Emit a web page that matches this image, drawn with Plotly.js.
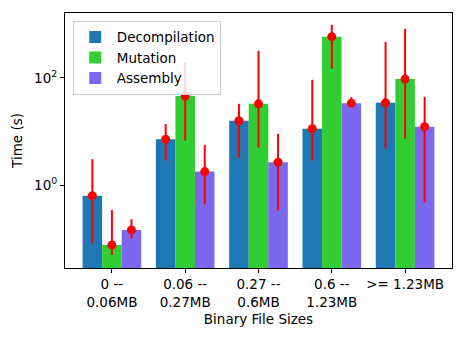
<!DOCTYPE html>
<html>
<head>
<meta charset="utf-8">
<script src="https://cdn.plot.ly/plotly-3.0.1.min.js"></script>
<style>html,body{margin:0;padding:0;background:#fff;}#chart{width:465px;height:337px;}</style>
</head>
<body>
<div id="chart"></div>
<script>
const categories = ["0 --<br>0.06MB", "0.06 --<br>0.27MB", "0.27 --<br>0.6MB", "0.6 --<br>1.23MB", ">= 1.23MB"];
const seriesNames = ["Decompilation", "Mutation", "Assembly"];
const seriesColors = ["#1f77b4", "#32cd32", "#7b68ee"];

const decompMean  = [0.646, 7.24, 15.9, 11.3, 34.3];
const decompLow   = [0.084, 2.89, 3.29, 2.89, 4.84];
const decompHigh  = [3.07, 13.9, 32.8, 91.8, 467];

const mutMean     = [0.078, 45.7, 32.8, 579, 94.6];
const mutLow      = [0.051, 6.81, 5.05, 149, 7.43];
const mutHigh     = [0.35, 193, 318, 968, 816];

const asmMean     = [0.149, 1.81, 2.70, 33.8, 12.3];
const asmLow      = [0.104, 0.447, 0.34, 29.2, 0.479];
const asmHigh     = [0.235, 5.67, 9.08, 43.7, 44.3];

const means = [decompMean, mutMean, asmMean];
const lows = [decompLow, mutLow, asmLow];
const highs = [decompHigh, mutHigh, asmHigh];

const idx = categories.map((c, i) => i);
const nS = seriesNames.length;
const barW = 0.8 / nS;

const traces = [];
seriesNames.forEach((name, k) => {
  traces.push({
    type: 'bar', name: name, x: idx, y: means[k],
    marker: {color: seriesColors[k], line: {width: 0}},
    hoverinfo: 'skip'
  });
});
seriesNames.forEach((name, k) => {
  const off = (k - (nS - 1) / 2) * barW;
  traces.push({
    type: 'scatter', mode: 'markers', showlegend: false,
    x: idx.map(i => i + off), y: means[k],
    marker: {color: 'red', size: 9},
    error_y: {
      type: 'data', symmetric: false,
      array: means[k].map((m, i) => highs[k][i] - m),
      arrayminus: means[k].map((m, i) => m - lows[k][i]),
      color: 'red', thickness: 2, width: 0
    }
  });
});

const layout = {
  width: 465, height: 337,
  margin: {l: 65, r: 13, t: 13, b: 69},
  paper_bgcolor: '#fff', plot_bgcolor: '#fff',
  font: {family: 'DejaVu Sans, sans-serif', size: 13.5, color: '#000'},
  barmode: 'group', bargap: 0.2, bargroupgap: 0,
  xaxis: {
    range: [-0.64, 4.64], tickvals: idx, ticktext: categories,
    showgrid: false, zeroline: false, showline: true, mirror: true,
    linecolor: '#000', linewidth: 1, ticks: 'outside', ticklen: 4, tickcolor: '#000',
    tickfont: {size: 13.5},
    title: {text: 'Binary File Sizes', font: {size: 13.5}, standoff: 5}
  },
  yaxis: {
    type: 'log', range: [-1.535, 3.205],
    tickvals: [1, 100], ticktext: ['10<sup>0</sup>', '10<sup>2</sup>'],
    showgrid: false, zeroline: false, showline: true, mirror: true,
    linecolor: '#000', linewidth: 1, ticks: 'outside', ticklen: 4, tickcolor: '#000',
    tickfont: {size: 13.5},
    title: {text: 'Time (s)', font: {size: 13.5}, standoff: 8}
  },
  legend: {
    x: 0.02, y: 0.97, xanchor: 'left', yanchor: 'top',
    bgcolor: 'rgba(255,255,255,0.85)', bordercolor: '#cccccc', borderwidth: 1,
    font: {size: 13.5}, itemwidth: 33
  },
  showlegend: true
};

Plotly.newPlot('chart', traces, layout, {displayModeBar: false, staticPlot: true});
</script>
</body>
</html>
